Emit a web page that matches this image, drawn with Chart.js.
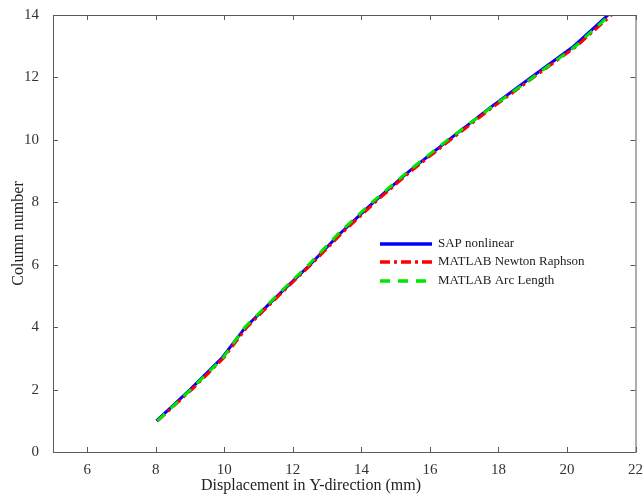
<!DOCTYPE html>
<html>
<head>
<meta charset="utf-8">
<title>Column displacement</title>
<script src="https://cdn.jsdelivr.net/npm/chart.js@4"></script>
<style>
    body { margin: 0; background: #fff; }
    canvas { display: block; }
</style>
</head>
<body>
<canvas id="dispChart" width="644" height="495"></canvas>
<script>

// column numbers (y axis)
const columns = [1, 2, 3, 4, 5, 6, 7, 8, 9, 10, 11, 12, 13, 14];

// displacement in Y-direction (mm)
const sapNonlinear = [8.02, 9.00, 9.92, 10.62, 11.55, 12.50, 13.38, 14.35, 15.40, 16.55, 17.72, 18.95, 20.20, 21.20];
const newtonRaphson = [8.05, 9.05, 9.97, 10.66, 11.58, 12.53, 13.42, 14.40, 15.45, 16.60, 17.78, 19.02, 20.28, 21.30];
const arcLength = [8.05, 9.02, 9.95, 10.60, 11.52, 12.46, 13.33, 14.31, 15.37, 16.52, 17.74, 19.00, 20.25, 21.25];

const seriesNames = ['SAP nonlinear', 'MATLAB Newton Raphson', 'MATLAB Arc Length'];

const xTicks = [6, 8, 10, 12, 14, 16, 18, 20, 22];
const yTicks = [0, 2, 4, 6, 8, 10, 12, 14];

const serif = '"Liberation Serif", "Times New Roman", serif';

function toPoints(xs) {
    return xs.map((x, i) => ({ x: x, y: columns[i] }));
}

// MATLAB style box with inward ticks, legend and x title
const matlabFrame = {

    id: 'matlabFrame',

    afterDatasetsDraw(chart) {

        const ctx = chart.ctx;
        const area = chart.chartArea;
        const xs = chart.scales.x;
        const ys = chart.scales.y;

        ctx.save();
        ctx.strokeStyle = '#5a5a5a';
        ctx.lineWidth = 1;

        ctx.strokeRect(area.left + 0.5, area.top + 0.5, area.right - area.left, area.bottom - area.top);

        ctx.beginPath();

        xTicks.forEach(v => {
            const px = Math.round(xs.getPixelForValue(v)) + 0.5;
            ctx.moveTo(px, area.bottom);
            ctx.lineTo(px, area.bottom - 5);
            ctx.moveTo(px, area.top);
            ctx.lineTo(px, area.top + 5);
        });

        yTicks.forEach(v => {
            const py = Math.round(ys.getPixelForValue(v)) + 0.5;
            ctx.moveTo(area.left, py);
            ctx.lineTo(area.left + 5, py);
            ctx.moveTo(area.right, py);
            ctx.lineTo(area.right - 5, py);
        });

        ctx.stroke();

        // legend
        const rows = [244, 262, 281];

        ctx.font = '13px ' + serif;
        ctx.textBaseline = 'middle';
        ctx.fillStyle = '#222';

        chart.data.datasets.forEach((ds, i) => {

            ctx.beginPath();
            ctx.strokeStyle = ds.borderColor;
            ctx.lineWidth = 3.5;
            ctx.setLineDash(ds.borderDash || []);
            ctx.moveTo(380, rows[i]);
            ctx.lineTo(432, rows[i]);
            ctx.stroke();

            ctx.setLineDash([]);
            ctx.fillText(ds.label, 438, rows[i]);

        });

        // x title
        ctx.font = '16px ' + serif;
        ctx.textAlign = 'center';
        ctx.textBaseline = 'middle';
        ctx.fillStyle = '#222';
        ctx.fillText('Displacement in Y-direction (mm)', 311, 486);

        ctx.restore();

    }

};

new Chart(document.getElementById('dispChart'), {

    type: 'line',

    data: {

        datasets: [
            {
                label: seriesNames[0],
                data: toPoints(sapNonlinear),
                borderColor: '#0000ff',
                borderWidth: 3,
                pointRadius: 0,
                order: 3
            },
            {
                label: seriesNames[1],
                data: toPoints(newtonRaphson),
                borderColor: '#ff0000',
                borderWidth: 3,
                borderDash: [10, 4, 3, 4],
                pointRadius: 0,
                order: 2
            },
            {
                label: seriesNames[2],
                data: toPoints(arcLength),
                borderColor: '#00e600',
                borderWidth: 3,
                borderDash: [10, 8],
                pointRadius: 0,
                order: 1
            }
        ]

    },

    options: {

        responsive: false,
        animation: false,

        layout: {
            padding: { top: 15, right: 2, left: 0, bottom: 0 }
        },

        plugins: {
            legend: { display: false },
            tooltip: { enabled: false }
        },

        scales: {

            x: {
                type: 'linear',
                min: 5,
                max: 22,
                grid: { display: false },
                border: { display: false },
                afterBuildTicks: scale => {
                    scale.ticks = xTicks.map(v => ({ value: v }));
                },
                afterFit: scale => {
                    scale.height = 43;
                },
                ticks: {
                    color: '#333',
                    padding: 1,
                    maxRotation: 0,
                    font: { family: serif, size: 15 }
                }
            },

            y: {
                type: 'linear',
                min: 0,
                max: 14,
                grid: { display: false },
                border: { display: false },
                afterBuildTicks: scale => {
                    scale.ticks = yTicks.map(v => ({ value: v }));
                },
                afterFit: scale => {
                    scale.width = 53;
                },
                title: {
                    display: true,
                    text: 'Column number',
                    color: '#222',
                    padding: { top: 9, bottom: 0 },
                    font: { family: serif, size: 16 }
                },
                ticks: {
                    color: '#333',
                    padding: 6,
                    font: { family: serif, size: 15 }
                }
            }

        }

    },

    plugins: [matlabFrame]

});

</script>
</body>
</html>
